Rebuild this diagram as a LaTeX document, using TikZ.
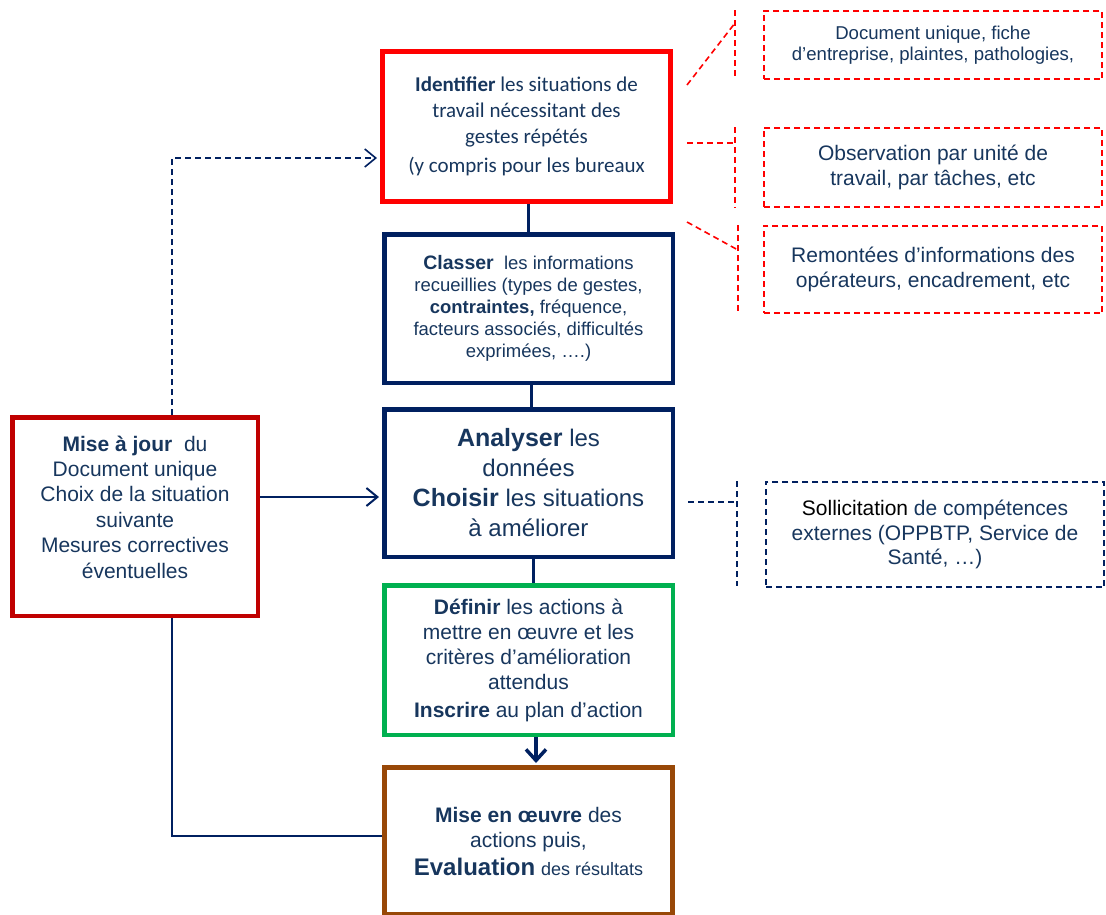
\documentclass[tikz,border=0pt]{standalone}
\usepackage{fontspec}
\setmainfont{Liberation Sans}
\newfontfamily\calib{Carlito}
\usetikzlibrary{arrows.meta,calc}
\definecolor{navy}{HTML}{002060}
\definecolor{txt}{HTML}{17365D}
\definecolor{brightred}{HTML}{FF0000}
\definecolor{darkred}{HTML}{C00000}
\definecolor{okgreen}{HTML}{00B050}
\definecolor{brownc}{HTML}{984807}
\newcommand{\fs}[2]{\fontsize{#1}{#2}\selectfont}
\begin{document}
\begin{tikzpicture}[x=1pt,y=-1pt,
  box/.style={draw, inner sep=0pt, align=center, text=txt},
  side/.style={draw, dash pattern=on 6pt off 4pt, line width=1.6pt, inner sep=0pt, align=center, text=txt},
  reddash/.style={draw=brightred, dash pattern=on 6pt off 4pt, line width=1.6pt},
  navydash/.style={draw=navy, dash pattern=on 6pt off 4pt, line width=1.6pt},
  conn/.style={draw=navy, line width=2pt},
  barb/.style={-{Straight Barb[length=11pt,width=18pt]}}
]
\useasboundingbox (0,0) rectangle (1106,914);
\clip (0,0) rectangle (1106,914);

% main column
\node[box, draw=brightred, line width=5pt, minimum width=288pt, minimum height=150pt, font=\calib\fs{21}{26}] (id) at (526.5,126.5)
  {{\bfseries Identifier} les situations de\\ travail nécessitant des\\ gestes répétés\\[3pt] (y compris pour les bureaux};
\node[box, draw=navy, line width=4.5pt, minimum width=288.5pt, minimum height=148.5pt, font=\fs{18.5}{22}] (cl) at (528.5,308.5)
  {{\fs{19.5}{22}\bfseries Classer}\ \ les informations\\ recueillies (types de gestes,\\ {\bfseries contraintes,} fréquence,\\ facteurs associés, difficultés\\ exprimées, ….)};
\node[box, draw=navy, line width=4.5pt, minimum width=288.5pt, minimum height=147.5pt, font=\fs{24}{30}] (an) at (528.5,483)
  {{\fs{25}{30}\bfseries Analyser} les\\ données\\ {\fs{25}{30}\bfseries Choisir} les situations\\ à améliorer};
\node[box, draw=okgreen, line width=4.5pt, minimum width=288.5pt, minimum height=149.5pt, font=\fs{21}{25}] (de) at (528.5,660)
  {{\bfseries Définir} les actions à\\ mettre en œuvre et les\\ critères d’amélioration\\ attendus\\[3pt] {\bfseries Inscrire} au plan d’action};
\node[box, draw=brownc, line width=5pt, minimum width=288pt, minimum height=147pt, font=\fs{21}{25}] (mo) at (528.5,841)
  {{\bfseries Mise en œuvre} des\\ actions puis,\\[3pt] {\fs{24}{28}\bfseries Evaluation} {\fs{18}{22}des résultats}};

% left box
\node[box, draw=darkred, line width=4.5pt, minimum width=245.5pt, minimum height=198.5pt] (maj) at (135,516.5) {};
\node[align=center, text=txt, font=\fs{21}{25.4}, inner sep=0pt] (majt) at (135,507)
  {{\bfseries Mise à jour}\ \ du\\ Document unique\\ Choix de la situation\\ suivante\\ Mesures correctives\\ éventuelles};

% right boxes
\node[side, draw=brightred, minimum width=338.5pt, minimum height=68.5pt, font=\fs{18.6}{21}] (r1) at (933,45)
  {Document unique, fiche\\ d’entreprise, plaintes, pathologies,};
\node[side, draw=brightred, minimum width=338.5pt, minimum height=79.5pt, font=\fs{21}{25}] (r2) at (933,167.5)
  {Observation par unité de\\ travail, par tâches, etc};
\node[side, draw=brightred, minimum width=338.5pt, minimum height=87.5pt, font=\fs{21}{25}] (r3) at (933,269.5)
  {Remontées d’informations des\\ opérateurs, encadrement, etc};
\node[side, draw=navy, minimum width=338.5pt, minimum height=105.5pt, font=\fs{21}{24.5}] (r4) at (935,534.5)
  {{\color{black}Sollicitation} de compétences\\ externes (OPPBTP, Service de\\ Santé, …)};

% connectors in the main column
\draw[conn, line width=3pt] ([xshift=1.5pt]id.south) -- ([xshift=-0.5pt]cl.north);
\draw[conn, line width=3pt] ([xshift=2.5pt]cl.south) -- ([xshift=2.5pt]an.north);
\draw[conn, line width=3pt] ([xshift=4.5pt]an.south) -- ([xshift=4.5pt]de.north);
\draw[conn, line width=3.5pt, -{Straight Barb[length=11pt,width=20pt]}, shorten >=2pt] ([xshift=7.5pt]de.south) -- ([xshift=7.5pt]mo.north);

% connectors from the left box
\draw[conn, barb, shorten >=3pt] ([yshift=19.5pt]maj.east) -- ([yshift=19.5pt]maj.east -| an.west);
\draw[navydash, barb, shorten >=3pt] ([xshift=37pt]maj.north) |- ([yshift=-31.5pt]id.west);
\draw[conn] ([xshift=37pt]maj.south) |- ([yshift=5pt]mo.west);

% callout brackets
\coordinate (v1t) at (735,10);  \coordinate (v1b) at (735,77);
\coordinate (d1a) at (687,85);  \coordinate (d1b) at (735,23);
\coordinate (v2t) at (735,127); \coordinate (v2b) at (735,208);
\coordinate (h2a) at (687,143); \coordinate (h2b) at (735,143);
\coordinate (v3t) at (738,225); \coordinate (v3b) at (738,312);
\coordinate (d3a) at (687,222); \coordinate (d3b) at (738,250);
\coordinate (v4t) at (737,481); \coordinate (v4b) at (737,586);
\coordinate (h4a) at (688,502); \coordinate (h4b) at (737,502);
\draw[reddash] (v1t) -- (v1b);
\draw[reddash] (d1a) -- (d1b);
\draw[reddash] (v2t) -- (v2b);
\draw[reddash] (h2a) -- (h2b);
\draw[reddash] (v3t) -- (v3b);
\draw[reddash] (d3a) -- (d3b);
\draw[navydash] (v4t) -- (v4b);
\draw[navydash] (h4a) -- (h4b);
\end{tikzpicture}
\end{document}
